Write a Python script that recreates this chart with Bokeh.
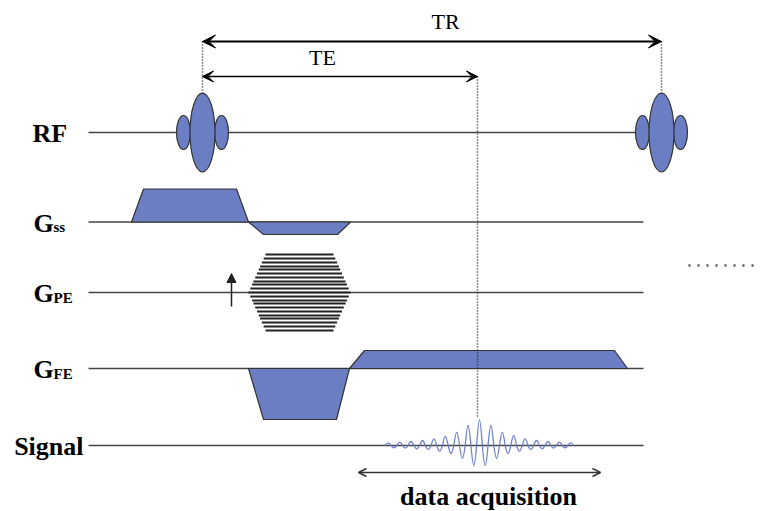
from bokeh.plotting import figure
from bokeh.models import Range1d, Arrow, VeeHead, NormalHead, OpenHead
from bokeh.core.properties import value
from bokeh.embed import file_html
from bokeh.resources import INLINE
import numpy as np

# ---------------- data (diagram timings, in diagram units) ----------------
row_labels = ["RF", "G", "G", "G", "Signal"]
row_subs = ["", "ss", "PE", "FE", ""]
row_y = [132, 221.5, 292, 368, 445]
row_start = 88
row_end = [646, 643, 643, 643, 643]

rf_times = [202, 661]          # centres of the two RF pulses (TR apart)
rf_main = (25, 79)              # width, height of main lobe
rf_side = (14, 34)              # width, height of side lobes
rf_side_offset = 19

# gradient lobes: start, ramp up end, ramp down start, end, amplitude
gss_lobes = [(131, 143, 236, 248, 33), (248, 263, 337, 350, -12.5)]
gfe_lobes = [(248, 263, 336, 349, -51), (349, 364, 614, 627, 18)]
pe_table = (248, 265, 333, 350)
pe_amps = [38, 34, 30, 26, 23, 19, 15, 11, 8, 4, 0, -4, -8, -11, -15, -19, -23, -26, -30, -34, -38]

# echo signal: amplitudes of successive half-cycles
sig_center = 479
sig_half_period = 5.7
sig_amps = [2.7, -2.3, 3.3, -2.7, 4, -3.3, 5, -4, 6.7, -5.7, 9, -8, 13.3, -13, 20, -20, 25.7,
            -20, 20, -13, 13.3, -8, 10, -5.7, 6.7, -4, 5, -3.3, 4, -2.7, 3.3, -2.3, 2.7]

te_time = 477
acq_window = (358, 600)

# ---------------- styling ----------------
FILL = "#6b7ec4"
EDGE = "#333333"
DARK = "#222222"
SERIF = value("Liberation Serif")
TXT_SHIFT = -9

p = figure(width=764, height=511, x_range=Range1d(0, 764), y_range=Range1d(511, 0),
           output_backend="svg", toolbar_location=None, min_border=0,
           x_axis_location=None, y_axis_location=None)
p.grid.visible = False
p.outline_line_color = None

# baselines
p.segment(x0=[row_start] * 5, y0=row_y, x1=row_end, y1=row_y, line_color="#444444", line_width=1.5)

# gradient lobes
def lobes_to_patches(lobes, base):
    xs, ys = [], []
    for t0, t1, t2, t3, a in lobes:
        xs.append([t0, t1, t2, t3])
        ys.append([base, base - a, base - a, base])
    return xs, ys

for lobes, base in [(gss_lobes, row_y[1]), (gfe_lobes, row_y[3])]:
    xs, ys = lobes_to_patches(lobes, base)
    p.patches(xs, ys, fill_color=FILL, line_color=EDGE, line_width=1.2)

# phase-encoding table
amax = max(abs(a) for a in pe_amps)
t0, t1, t2, t3 = pe_table
ramp = t1 - t0
pe_x0 = [t0 + ramp * abs(a) / amax for a in pe_amps]
pe_x1 = [t3 - ramp * abs(a) / amax for a in pe_amps]
pe_y = [row_y[2] - a for a in pe_amps]
p.segment(x0=pe_x0, y0=pe_y, x1=pe_x1, y1=pe_y, line_color=DARK, line_width=2)
p.add_layout(Arrow(end=NormalHead(size=9, fill_color=DARK, line_color=DARK),
                   x_start=231, y_start=306, x_end=231, y_end=273,
                   line_color=DARK, line_width=1.5))

# RF pulses
side_x = []
for t in rf_times:
    side_x += [t - rf_side_offset, t + rf_side_offset]
p.ellipse(x=side_x, y=[row_y[0]] * len(side_x), width=rf_side[0], height=rf_side[1],
          fill_color=FILL, line_color=EDGE, line_width=1.2)
p.ellipse(x=rf_times, y=[row_y[0]] * 2, width=rf_main[0], height=rf_main[1],
          fill_color=FILL, line_color=EDGE, line_width=1.2)

# echo signal as half-sine bezier arcs
amps = np.array(sig_amps)
n = len(amps)
idx = np.arange(n) - (n - 1) / 2
h = sig_half_period
sx0 = sig_center + (idx - 0.5) * h
sx1 = sig_center + (idx + 0.5) * h
k = 0.4244
base = row_y[4]
p.bezier(x0=sx0, y0=[base] * n, x1=sx1, y1=[base] * n,
         cx0=sx0 + k * h, cy0=base - 4 / 3 * amps,
         cx1=sx1 - k * h, cy1=base - 4 / 3 * amps,
         line_color="#6f82cf", line_width=1.3)

# dotted timing markers
tr_y, te_y = 41, 76
p.segment(x0=[rf_times[0], rf_times[1], te_time],
          y0=[tr_y, tr_y, te_y],
          x1=[rf_times[0], rf_times[1], te_time],
          y1=[row_y[0] - rf_main[1] / 2, row_y[0] - rf_main[1] / 2, 417],
          line_color=DARK, line_width=1.5, line_dash="1 2")

# TR / TE arrows
p.add_layout(Arrow(start=VeeHead(size=13, fill_color="black", line_color="black"),
                   end=VeeHead(size=13, fill_color="black", line_color="black"),
                   x_start=rf_times[0], y_start=tr_y, x_end=rf_times[1], y_end=tr_y,
                   line_color="black", line_width=2.2))
p.add_layout(Arrow(start=VeeHead(size=11, fill_color="black", line_color="black"),
                   end=VeeHead(size=11, fill_color="black", line_color="black"),
                   x_start=rf_times[0], y_start=te_y, x_end=te_time, y_end=te_y,
                   line_color="black", line_width=1.6))
p.add_layout(Arrow(start=OpenHead(size=8, line_color="#333333", line_width=1.5),
                   end=OpenHead(size=8, line_color="#333333", line_width=1.5),
                   x_start=acq_window[0], y_start=472, x_end=acq_window[1], y_end=472,
                   line_color="#333333", line_width=1.5))

# continuation dots
p.line([688, 758], [265, 265], line_dash="2 7", line_width=2.5, line_color="#555555")

# texts
p.text(x=[445], y=[30 + TXT_SHIFT], text=["TR"], text_font=SERIF, text_font_size="22px",
       text_align="center", text_baseline="alphabetic", text_color="black")
p.text(x=[322], y=[66 + TXT_SHIFT], text=["TE"], text_font=SERIF, text_font_size="22px",
       text_align="center", text_baseline="alphabetic", text_color="black")
p.text(x=[488], y=[505 + TXT_SHIFT], text=["data acquisition"], text_font=SERIF,
       text_font_size="26px", text_font_style="bold", text_align="center",
       text_baseline="alphabetic", text_color="black")

main_x = [32, 33, 33, 33, 83]
main_align = ["left", "left", "left", "left", "right"]
for lab, sub, y, x, al in zip(row_labels, row_subs, row_y, main_x, main_align):
    p.text(x=[x], y=[y + 10 + TXT_SHIFT], text=[lab], text_font=SERIF, text_font_size="26px",
           text_font_style="bold", text_align=al, text_baseline="alphabetic", text_color="black")
    if sub:
        p.text(x=[53], y=[y + 14 + TXT_SHIFT], text=[sub], text_font=SERIF,
               text_font_size="15px", text_font_style="bold", text_align="left",
               text_baseline="alphabetic", text_color="black")

open("out.html", "w").write(file_html(p, INLINE, title="MRI pulse sequence"))
